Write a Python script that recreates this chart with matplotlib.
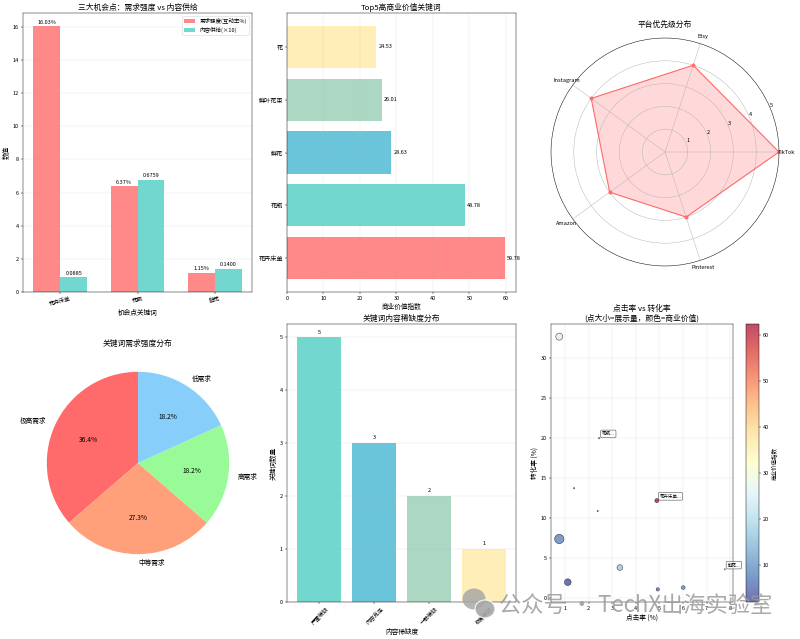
import matplotlib
matplotlib.use("Agg")
import matplotlib.pyplot as plt
import numpy as np
from matplotlib.patches import Ellipse

plt.rcParams['font.family'] = ['Noto Sans CJK SC', 'DejaVu Sans']
plt.rcParams['axes.unicode_minus'] = False

# 图1：三大机会点
opp_keywords = ["花卉床单", "花瓶", "鲜花"]
demand_rate = [16.03, 6.37, 1.15]          # 互动率 %
content_supply = [0.0885, 0.6759, 0.1400]  # 内容供给（画图时 ×10）

# 图2：Top5 商业价值
top_keywords = ["花卉床单", "花瓶", "鲜花", "鲜叶花束", "花"]
top_values = [59.78, 48.78, 28.63, 26.01, 24.53]

# 图3：平台优先级
platforms = ["TikTok", "Etsy", "Instagram", "Amazon", "Pinterest"]
platform_scores = [5, 4, 4, 3, 3]

# 图4：需求强度分布
demand_levels = ["极高需求", "中等需求", "高需求", "低需求"]
demand_counts = [4, 3, 2, 2]

# 图5：内容稀缺度
scarcity_levels = ["严重稀缺", "内容充足", "一般稀缺", "极度稀缺"]
scarcity_counts = [5, 3, 2, 1]

# 图6：点击率 vs 转化率
scatter_names = ["", "", "", "", "", "花瓶", "", "花卉床单", "", "", "鲜花"]
ctr = [0.75, 0.75, 1.11, 1.38, 2.38, 2.44, 3.32, 4.89, 4.93, 6.01, 7.77]
cvr = [32.7, 7.4, 2.0, 13.75, 10.9, 20.0, 3.83, 12.2, 1.1, 1.33, 3.6]
impressions = [15900, 28000, 14500, 550, 500, 600, 10500, 5200, 3500, 4400, 550]
biz_value = [25.0, 8.0, 1.9, 12.0, 8.0, 48.78, 17.0, 62.5, 7.0, 9.0, 28.63]

colors5 = ['#FF6B6B', '#4ECDC4', '#45B7D1', '#96CEB4', '#FFEAA7']


def rect(l, t, r, b):
    return [l / 800, 1 - b / 639, (r - l) / 800, (b - t) / 639]


fig = plt.figure(figsize=(20, 15.975), dpi=40)

# ---- 图1
ax1 = fig.add_axes(rect(23, 13, 252, 292))
x = np.arange(len(opp_keywords))
w = 0.35
supply_scaled = [v * 10 for v in content_supply]
b1 = ax1.bar(x - w / 2, demand_rate, w, label='需求强度(互动率%)', color='#FF6B6B', alpha=0.8)
b2 = ax1.bar(x + w / 2, supply_scaled, w, label='内容供给(×10)', color='#4ECDC4', alpha=0.8)
for bar, v in zip(b1, demand_rate):
    ax1.text(bar.get_x() + bar.get_width() / 2, bar.get_height() + 0.1, f'{v:.2f}%',
             ha='center', va='bottom', fontsize=10)
for bar, v in zip(b2, content_supply):
    ax1.text(bar.get_x() + bar.get_width() / 2, bar.get_height() + 0.1, f'{v:.4f}',
             ha='center', va='bottom', fontsize=10)
ax1.set_xticks(x)
ax1.set_xticklabels(opp_keywords, rotation=15)
ax1.set_xlabel('机会点关键词', fontsize=12)
ax1.set_ylabel('数值', fontsize=12)
ax1.set_title('三大机会点：需求强度 vs 内容供给', fontsize=14)
ax1.legend(fontsize=10, loc='upper right')
ax1.grid(axis='y', alpha=0.3)

# ---- 图2
ax2 = fig.add_axes(rect(287, 13, 516, 292))
bars = ax2.barh(top_keywords, top_values, color=colors5, alpha=0.8)
for bar, v in zip(bars, top_values):
    ax2.text(v + 0.5, bar.get_y() + bar.get_height() / 2, f'{v:.2f}', va='center', fontsize=10)
ax2.tick_params(axis='y', labelsize=11)
ax2.set_xlabel('商业价值指数', fontsize=12)
ax2.set_title('Top5高商业价值关键词', fontsize=14)
ax2.grid(axis='x', alpha=0.3)

# ---- 图3
ax3 = fig.add_axes(rect(551, 38, 779, 266), projection='polar')
angles = np.linspace(0, 2 * np.pi, len(platforms), endpoint=False).tolist()
vals = platform_scores + platform_scores[:1]
angs = angles + angles[:1]
ax3.plot(angs, vals, 'o-', linewidth=2, color='#FF6B6B', markersize=6)
ax3.fill(angs, vals, alpha=0.25, color='#FF6B6B')
ax3.set_xticks(angles)
ax3.set_xticklabels(platforms)
ax3.set_ylim(0, 5)
ax3.set_title('平台优先级分布', fontsize=14, pad=20)
ax3.grid(True)

# ---- 图4
ax4 = fig.add_axes(rect(24, 349, 252, 577))
ax4.pie(demand_counts, labels=demand_levels, autopct='%1.1f%%', startangle=90,
        colors=['#FF6B6B', '#FFA07A', '#98FB98', '#87CEFA'], textprops={'fontsize': 12})
ax4.set_title('关键词需求强度分布', fontsize=14)

# ---- 图5
ax5 = fig.add_axes(rect(287, 324, 516, 602))
bars5 = ax5.bar(scarcity_levels, scarcity_counts, color=colors5[1:], alpha=0.8)
for bar, v in zip(bars5, scarcity_counts):
    ax5.text(bar.get_x() + bar.get_width() / 2, bar.get_height() + 0.05, str(v),
             ha='center', va='bottom', fontsize=10)
ax5.set_xlabel('内容稀缺度', fontsize=12)
ax5.set_ylabel('关键词数量', fontsize=12)
ax5.set_title('关键词内容稀缺度分布', fontsize=14)
ax5.tick_params(axis='x', rotation=45)
ax5.grid(axis='y', alpha=0.3)

# ---- 图6
ax6 = fig.add_axes(rect(551, 324, 733, 602))
sizes = [v / 100 for v in impressions]
sc = ax6.scatter(ctr, cvr, s=sizes, c=biz_value, cmap='RdYlBu_r', alpha=0.7,
                 edgecolors='black', linewidths=1)
for name, xv, yv in zip(scatter_names, ctr, cvr):
    if name:
        ax6.annotate(name + '...', (xv, yv), xytext=(5, 5), textcoords='offset points', fontsize=8,
                     bbox=dict(boxstyle='round,pad=0.3', facecolor='white', alpha=0.7))
ax6.set_xlabel('点击率 (%)', fontsize=12)
ax6.set_ylabel('转化率 (%)', fontsize=12)
ax6.set_title('点击率 vs 转化率\n(点大小=展示量，颜色=商业价值)', fontsize=14)
ax6.grid(alpha=0.3)
cax = fig.add_axes(rect(746, 324, 759, 602))
cb = fig.colorbar(sc, cax=cax)
cb.set_label('商业价值指数', fontsize=10)

# 水印
fig.add_artist(Ellipse((474 / 800, 1 - 599 / 639), 23 / 800, 21 / 639, transform=fig.transFigure,
                       facecolor='#a8a8a8', edgecolor='none', alpha=0.85))
fig.add_artist(Ellipse((485 / 800, 1 - 609 / 639), 20 / 800, 18 / 639, transform=fig.transFigure,
                       facecolor='#a8a8a8', edgecolor='white', linewidth=2, alpha=0.9))
fig.text(499 / 800, 1 - 605 / 639, '公众号 · TechX出海实验室', fontsize=40, color='#9a9a9a',
         alpha=0.85, va='center', ha='left')

fig.savefig('out.png', dpi=40)
